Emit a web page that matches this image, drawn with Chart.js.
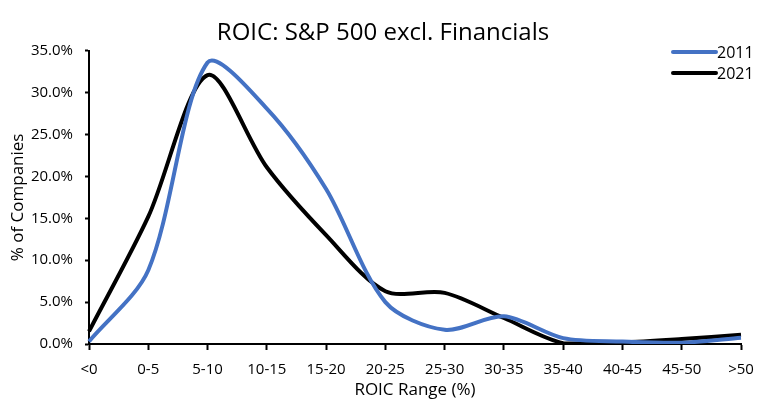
<!DOCTYPE html>
<html>
<head>
<meta charset="utf-8">
<script src="https://cdn.jsdelivr.net/npm/chart.js@4.4.1/dist/chart.umd.min.js"></script>
<style>
  html, body { margin: 0; padding: 0; background: #fff; }
  #wrap { width: 766px; height: 404px; }
</style>
</head>
<body>
<div id="wrap"><canvas id="roic" width="766" height="404"></canvas></div>
<script>
// ROIC buckets (x axis)
var ranges = ['<0', '0-5', '5-10', '10-15', '15-20', '20-25', '25-30', '30-35', '35-40', '40-45', '45-50', '>50'];

// % of companies per bucket
var y2011 = [0.3, 8.8, 33.6, 28.1, 18.5, 5.0, 1.7, 3.3, 0.7, 0.3, 0.15, 0.75];
var y2021 = [1.5, 15.2, 32.1, 21.1, 13.0, 6.3, 6.1, 3.1, 0.1, 0.2, 0.6, 1.1];

var seriesNames = ['2011', '2021'];
var seriesColors = ['#4472C4', '#000000'];

var FONT = 'Open Sans';

// legend drawn by hand so it sits in the top-right corner like the original
var cornerLegend = {
    id: 'cornerLegend',
    afterDraw: function(chart) {
        var c = chart.ctx;
        var x0 = 673, x1 = 716;
        c.save();
        c.font = '16px "' + FONT + '"';
        c.textBaseline = 'middle';
        c.textAlign = 'left';
        chart.data.datasets.forEach(function(ds, i) {
            var y = 52 + i * 21;
            c.strokeStyle = ds.borderColor;
            c.lineWidth = 4;
            c.lineCap = 'round';
            c.beginPath();
            c.moveTo(x0, y);
            c.lineTo(x1, y);
            c.stroke();
            c.fillStyle = '#000';
            c.fillText(ds.label, x1 + 1, y + 1);
        });
        c.restore();
    }
};

var ctx = document.getElementById('roic').getContext('2d');
var roicChart = new Chart(ctx, {
    type: 'line',
    data: {
        labels: ranges,
        datasets: [
            {
                label: seriesNames[0],
                data: y2011,
                borderColor: seriesColors[0],
                borderWidth: 4,
                pointRadius: 0,
                tension: 0.3,
                fill: false
            },
            {
                label: seriesNames[1],
                data: y2021,
                borderColor: seriesColors[1],
                borderWidth: 4,
                pointRadius: 0,
                tension: 0.3,
                fill: false
            }
        ]
    },
    options: {
        responsive: false,
        animation: false,
        // equal side padding keeps the title centred on the canvas
        layout: { padding: { left: 25, right: 25, top: 0, bottom: 4 } },
        plugins: {
            legend: { display: false },
            tooltip: { enabled: false },
            title: {
                display: true,
                text: 'ROIC: S&P 500 excl. Financials',
                color: '#000',
                font: { family: FONT, size: 24, weight: 'normal', lineHeight: 1.2 },
                padding: { top: 19, bottom: 3 }
            }
        },
        scales: {
            x: {
                offset: false,
                grid: { drawOnChartArea: false, drawTicks: true, tickLength: 6, tickWidth: 2, tickColor: '#000' },
                border: { display: true, color: '#000', width: 2 },
                ticks: { color: '#000', font: { family: FONT, size: 15 }, maxRotation: 0, autoSkip: false, padding: 11 },
                title: { display: true, text: 'ROIC Range (%)', color: '#000', font: { family: FONT, size: 17 }, padding: { top: 0, bottom: 0 } },
                afterFit: function(s) { s.height = 56; }
            },
            y: {
                min: 0,
                max: 35,
                grid: { drawOnChartArea: false, drawTicks: true, tickLength: 4, tickWidth: 2, tickColor: '#000' },
                border: { display: true, color: '#000', width: 2 },
                ticks: {
                    stepSize: 5,
                    color: '#000',
                    font: { family: FONT, size: 15 },
                    padding: 12,
                    callback: function(v) { return v.toFixed(1) + '%'; }
                },
                // negative padding pulls the axis title out into the left margin
                title: { display: true, text: '% of Companies', color: '#000', font: { family: FONT, size: 17 }, padding: { top: -17, bottom: 0 } },
                afterFit: function(s) { s.width = 64; }
            }
        }
    },
    plugins: [cornerLegend]
});
</script>
</body>
</html>
